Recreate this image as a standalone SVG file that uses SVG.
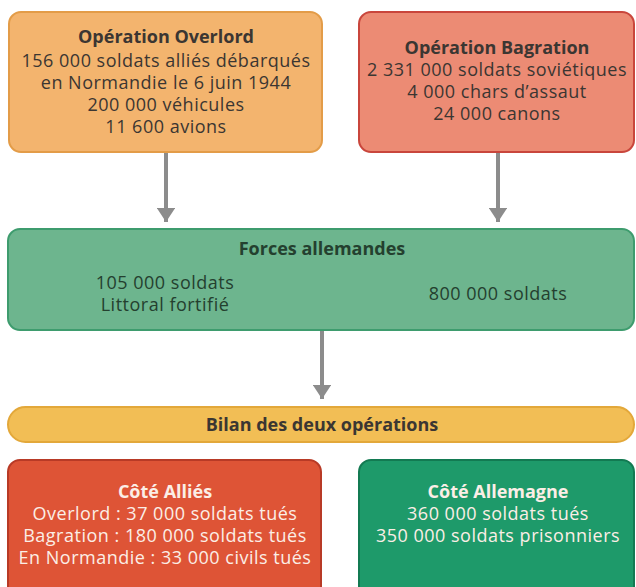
<svg xmlns="http://www.w3.org/2000/svg" width="636" height="587" viewBox="0 0 636 587">
<style>
text{font-family:"Open Sans","Noto Sans",sans-serif;font-size:18px;letter-spacing:0.5px;text-anchor:middle}
.b{font-weight:bold;letter-spacing:0}
.dk{fill:#3b3632}
.gr{fill:#24402f}
.w{fill:#fbeee6}
.conn line{stroke:#8c8c8c;stroke-width:4}
</style>
<defs>
<marker id="ah" markerWidth="3.5" markerHeight="4.6" refX="3.5" refY="2.3" orient="auto" markerUnits="strokeWidth">
<path d="M0,0 L3.5,2.3 L0,4.6 Z" fill="#8c8c8c"/>
</marker>
</defs>
<rect width="636" height="587" fill="#ffffff"/>
<g class="conn">
<line x1="166" y1="153" x2="166" y2="222" marker-end="url(#ah)"/>
<line x1="498" y1="153" x2="498" y2="222" marker-end="url(#ah)"/>
<line x1="322" y1="331" x2="322" y2="399" marker-end="url(#ah)"/>
</g>
<g id="overlord">
<rect x="9" y="12" width="313" height="140" rx="12" fill="#f3b46e" stroke="#e39c48" stroke-width="2"/>
<text x="166" y="43" class="b dk">Opération Overlord</text>
<text x="166" y="67" class="dk">156 000 soldats alliés débarqués</text>
<text x="166" y="89" class="dk">en Normandie le 6 juin 1944</text>
<text x="166" y="111" class="dk">200 000 véhicules</text>
<text x="166" y="133" class="dk">11 600 avions</text>
</g>
<g id="bagration">
<rect x="359" y="12" width="275" height="140" rx="12" fill="#ec8b74" stroke="#c9463c" stroke-width="2"/>
<text x="497" y="54" class="b dk">Opération Bagration</text>
<text x="497" y="76" class="dk">2 331 000 soldats soviétiques</text>
<text x="497" y="98" class="dk">4 000 chars d’assaut</text>
<text x="497" y="120" class="dk">24 000 canons</text>
</g>
<g id="forces">
<rect x="8" y="229" width="626" height="101" rx="12" fill="#6db58e" stroke="#3e9c6e" stroke-width="2"/>
<text x="322" y="255" class="b gr">Forces allemandes</text>
<text x="165" y="289" class="gr">105 000 soldats</text>
<text x="165" y="311" class="gr">Littoral fortifié</text>
<text x="498" y="300" class="gr">800 000 soldats</text>
</g>
<g id="bilan">
<rect x="8" y="407" width="626" height="35" rx="17.5" fill="#f2be55" stroke="#e3a83a" stroke-width="2"/>
<text x="322" y="431" class="b dk">Bilan des deux opérations</text>
</g>
<g id="allies">
<rect x="8" y="460" width="313" height="140" rx="12" fill="#de5436" stroke="#b83a26" stroke-width="2"/>
<text x="165" y="498" class="b w">Côté Alliés</text>
<text x="165" y="520" class="w">Overlord : 37 000 soldats tués</text>
<text x="165" y="542" class="w">Bagration : 180 000 soldats tués</text>
<text x="165" y="564" class="w">En Normandie : 33 000 civils tués</text>
</g>
<g id="allemagne">
<rect x="359" y="460" width="275" height="140" rx="12" fill="#1e9a6a" stroke="#137a52" stroke-width="2"/>
<text x="498" y="498" class="b w">Côté Allemagne</text>
<text x="498" y="520" class="w">360 000 soldats tués</text>
<text x="498" y="542" class="w">350 000 soldats prisonniers</text>
</g>
</svg>
